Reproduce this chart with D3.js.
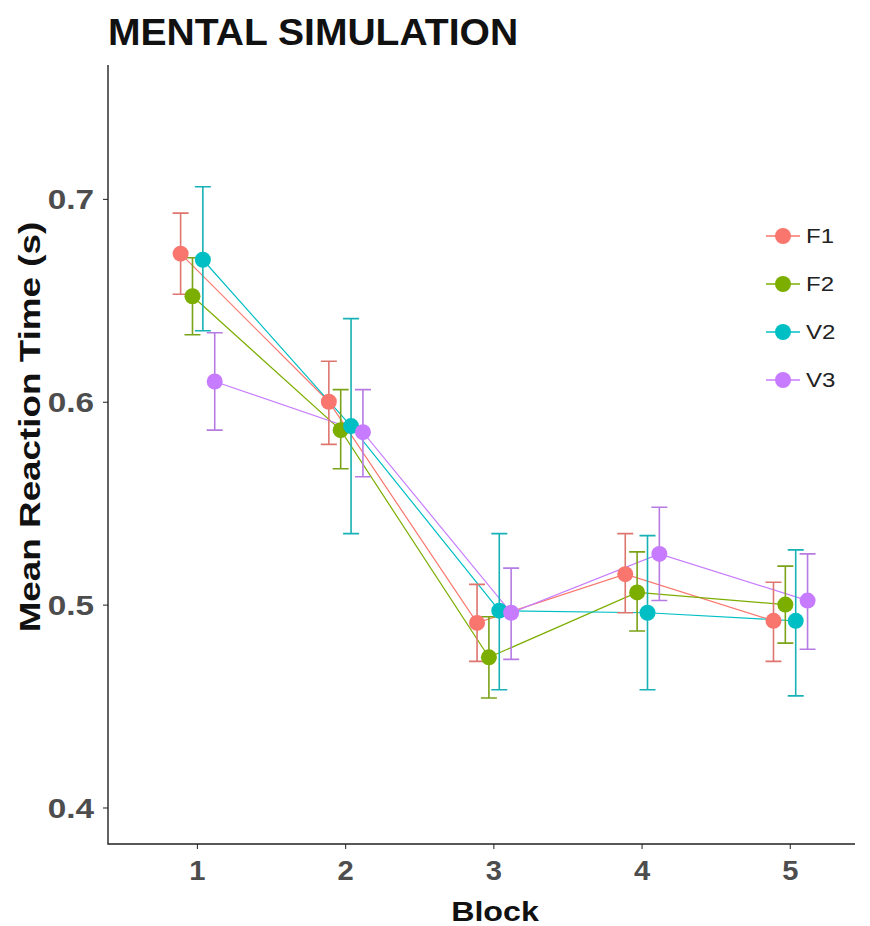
<!DOCTYPE html>
<html>
<head>
<meta charset="utf-8">
<script src="https://cdn.jsdelivr.net/npm/d3@7"></script>
<style>
  html, body { margin: 0; padding: 0; background: #fff; }
  svg { display: block; font-family: "Liberation Sans", Arial, sans-serif; }
</style>
</head>
<body>
<svg id="chart" width="870" height="926"></svg>
<script>
// Mean reaction time per block, one series per condition, with error-bar limits
const blocks = [1, 2, 3, 4, 5];
const groups = ["F1", "F2", "V2", "V3"];
const colors = ["#F8766D", "#7CAE00", "#00BFC4", "#C77CFF"];

const meanF1 = [0.673, 0.600, 0.491, 0.515, 0.492];
const lowF1  = [0.653, 0.579, 0.472, 0.496, 0.472];
const highF1 = [0.693, 0.620, 0.510, 0.535, 0.511];

const meanF2 = [0.652, 0.586, 0.474, 0.506, 0.500];
const lowF2  = [0.633, 0.567, 0.454, 0.487, 0.481];
const highF2 = [0.671, 0.606, 0.494, 0.526, 0.519];

const meanV2 = [0.670, 0.588, 0.497, 0.496, 0.492];
const lowV2  = [0.635, 0.535, 0.458, 0.458, 0.455];
const highV2 = [0.706, 0.641, 0.535, 0.534, 0.527];

const meanV3 = [0.610, 0.585, 0.496, 0.525, 0.502];
const lowV3  = [0.586, 0.563, 0.473, 0.502, 0.478];
const highV3 = [0.634, 0.606, 0.518, 0.548, 0.525];

const yTicks = [0.4, 0.5, 0.6, 0.7];

const seriesMeans = [meanF1, meanF2, meanV2, meanV3];
const seriesLows  = [lowF1, lowF2, lowV2, lowV3];
const seriesHighs = [highF1, highF2, highV2, highV3];

// horizontal dodge per group, in block units
const dodge = [-0.11, -0.03, 0.04, 0.12];

const series = groups.map((g, i) => ({
  name: g,
  color: colors[i],
  points: blocks.map((b, j) => ({
    x: b + dodge[i],
    mean: seriesMeans[i][j],
    lo: seriesLows[i][j],
    hi: seriesHighs[i][j]
  }))
}));

// widen text along its baseline (the labels use a broad letterform)
function widen(sel, factor) {
  sel.each(function () {
    const w = this.getComputedTextLength();
    d3.select(this)
      .attr("textLength", w * factor)
      .attr("lengthAdjust", "spacingAndGlyphs");
  });
}

const svg = d3.select("#chart");
const plot = { left: 108, right: 855, top: 65, bottom: 844 };

const x = d3.scaleLinear().domain([0.4, 5.44]).range([plot.left, plot.right]);
const y = d3.scaleLinear().domain([0.382, 0.766]).range([plot.bottom, plot.top]);

// axes
const xAxis = svg.append("g")
  .attr("transform", `translate(0,${plot.bottom})`)
  .call(d3.axisBottom(x).tickValues(blocks).tickFormat(d3.format("d")).tickSize(5).tickPadding(7));
const yAxis = svg.append("g")
  .attr("transform", `translate(${plot.left},0)`)
  .call(d3.axisLeft(y).tickValues(yTicks).tickFormat(d3.format(".1f")).tickSize(5).tickPadding(9));

[xAxis, yAxis].forEach(a => {
  a.select(".domain").remove();
  a.selectAll(".tick line").attr("stroke", "#333").attr("stroke-width", 1.1);
  a.selectAll(".tick text")
    .attr("fill", "#4D4D4D")
    .attr("font-size", 28)
    .attr("font-weight", "bold")
    .attr("font-family", "Liberation Sans, Arial, sans-serif");
});
xAxis.selectAll(".tick text").attr("dy", "0.85em");
yAxis.selectAll(".tick text").attr("dy", "0.36em");
widen(xAxis.selectAll(".tick text"), 1.04);
widen(yAxis.selectAll(".tick text"), 1.19);

// axis lines (bottom-left L)
svg.append("path")
  .attr("d", `M${plot.left},${plot.top}V${plot.bottom}H${plot.right}`)
  .attr("fill", "none").attr("stroke", "#222").attr("stroke-width", 1.4);

// connecting lines
const line = d3.line().x(d => x(d.x)).y(d => y(d.mean));
svg.append("g").selectAll("path")
  .data(series).join("path")
  .attr("d", d => line(d.points))
  .attr("fill", "none")
  .attr("stroke", d => d.color)
  .attr("stroke-width", 1.2);

// error bars
const capHalf = 8;
const eb = svg.append("g").selectAll("g")
  .data(series).join("g")
  .attr("stroke", d => d3.interpolateRgb(d.color, "#777")(0.2))
  .attr("stroke-width", 1.6)
  .attr("fill", "none");
eb.selectAll("path")
  .data(d => d.points).join("path")
  .attr("d", p => {
    const cx = x(p.x), yl = y(p.lo), yh = y(p.hi);
    return `M${cx - capHalf},${yh}H${cx + capHalf}M${cx},${yh}V${yl}M${cx - capHalf},${yl}H${cx + capHalf}`;
  });

// points
svg.append("g").selectAll("g")
  .data(series).join("g")
  .attr("fill", d => d.color)
  .selectAll("circle")
  .data(d => d.points).join("circle")
  .attr("cx", p => x(p.x))
  .attr("cy", p => y(p.mean))
  .attr("r", 8);

// title
svg.append("text")
  .attr("x", 108).attr("y", 45)
  .attr("font-size", 36).attr("font-weight", "bold").attr("fill", "#111")
  .text("MENTAL SIMULATION")
  .call(widen, 1.085);

// axis titles
svg.append("text")
  .attr("x", 495).attr("y", 921)
  .attr("text-anchor", "middle")
  .attr("font-size", 28).attr("font-weight", "bold").attr("fill", "#111")
  .text("Block")
  .call(widen, 1.15);
svg.append("text")
  .attr("transform", "translate(40,427) rotate(-90)")
  .attr("text-anchor", "middle")
  .attr("font-size", 29).attr("font-weight", "bold").attr("fill", "#111")
  .text("Mean Reaction Time (s)")
  .call(widen, 1.27);

// legend
const legend = svg.append("g").selectAll("g")
  .data(series).join("g")
  .attr("transform", (d, i) => `translate(783,${236 + i * 48})`);
legend.append("line")
  .attr("x1", -17).attr("x2", 17)
  .attr("stroke", d => d.color).attr("stroke-width", 1.4);
legend.append("circle").attr("r", 8).attr("fill", d => d.color);
legend.append("text")
  .attr("x", 23).attr("dy", "0.36em")
  .attr("font-size", 20).attr("fill", "#222")
  .text(d => d.name)
  .call(widen, 1.2);
</script>
</body>
</html>
